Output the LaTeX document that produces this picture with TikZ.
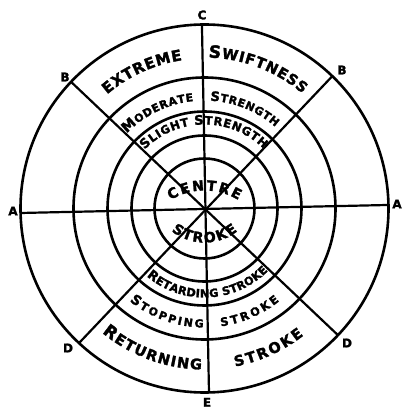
\documentclass[tikz,border=0pt]{standalone}
\usepackage{fontspec}
\setmainfont{DejaVu Sans}[BoldFeatures={FakeBold=2}]
\usetikzlibrary{decorations.text}
\newcommand\fs[1]{\bfseries\fontsize{#1}{#1}\selectfont}
\newcommand\ringtext[5]{\path[decorate,decoration={text along path,text={#5},text align=fit to path}] ([shift={(#1)}]#3:#2pt) arc[start angle=#3,end angle=#4,radius=#2pt];}
\tikzset{
  ring/.style={line width=2.6pt},
  spoke/.style={line width=2.2pt},
  lbl/.style={font=\fs{12},inner sep=0pt},
}
\begin{document}
\begin{tikzpicture}[x=1pt,y=1pt]
\useasboundingbox[fill=white] (-204.5,-200.5) rectangle (197.5,208.5);
% circles
\foreach \r in {50,73,97,131,184} \draw[ring] (0,0) circle[radius=\r pt];
% end points of the diameters
\coordinate (a1) at (181.4:184pt);
\coordinate (a2) at (1.1:184pt);
\coordinate (c) at (90.8:184pt);
\coordinate (e) at (271.4:184pt);
\coordinate (b1) at (136.5:184pt);
\coordinate (d2) at (316.5:184pt);
\coordinate (b2) at (46:184pt);
\coordinate (d1) at (227:184pt);
\draw[spoke] (a1) -- (a2);
\draw[spoke] (c) -- (e);
\draw[spoke] (b1) -- (d2);
\draw[spoke] (b2) -- (d1);
% labels
\node[lbl] (lA1) at (-191.5,-2.5) {A};
\node[lbl] (lA2) at (192.5,4.5) {A};
\node[lbl] (lC) at (-2.5,193.5) {C};
\node[lbl] (lE) at (2.5,-193.8) {E};
\node[lbl] (lB1) at (-139.5,131.5) {B};
\node[lbl] (lB2) at (137.5,138.5) {B};
\node[lbl] (lD1) at (-136.5,-139.5) {D};
\node[lbl] (lD2) at (142.5,-134.5) {D};
% outer ring, top
\ringtext{0,0}{150}{130.5}{98.5}{|\fs{15}|EXTREME}
\ringtext{0,0}{151}{88.5}{49.5}{|\fs{17}|S|\fs{14.5}|WIFTNESS}
% second ring, top
\ringtext{0,0}{108}{136}{95.8}{|\fs{14}|M|\fs{11}|ODERATE}
\ringtext{0,0}{108}{87}{49}{|\fs{13}|S|\fs{11}|TRENGTH}
% third ring, top
\ringtext{0,0}{84}{135.5}{45.5}{|\fs{13}|S|\fs{11.5}|LIGHT |\fs{13}|S|\fs{11.5}|TRENGTH}
% centre
\ringtext{0,-47}{65}{121.5}{58.5}{|\fs{14}|CENTRE}
\ringtext{0,19}{53}{231.5}{308.5}{|\fs{14}|STROKE}
% third ring, bottom
\ringtext{0,0}{89}{229.5}{315.5}{|\fs{13}|R|\fs{11.3}|ETARDING STROKE}
% second ring, bottom
\ringtext{0,0}{119}{231}{269.5}{|\fs{13.5}|S|\fs{11}|TOPPING}
\ringtext{0,0}{119}{278}{309}{|\fs{11.5}|STROKE}
% outer ring, bottom
\ringtext{0,0}{161}{230.5}{269}{|\fs{17}|R|\fs{14.5}|ETURNING}
\ringtext{0,0}{161}{281}{308}{|\fs{14.5}|STROKE}
\end{tikzpicture}
\end{document}
